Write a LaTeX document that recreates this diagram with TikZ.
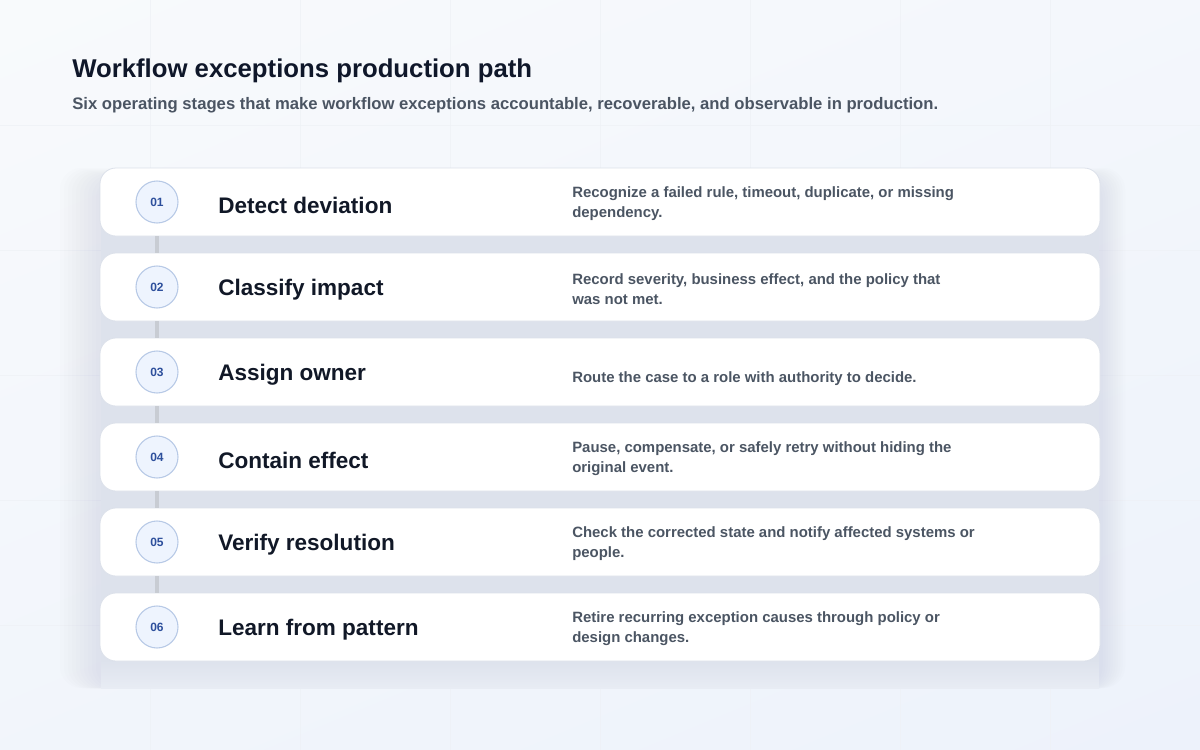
\documentclass[tikz,border=0pt]{standalone}
\usepackage{fontspec}
\setmainfont{Liberation Sans}
\usetikzlibrary{positioning, shadings}
\definecolor{bgtop}{HTML}{F8FAFC}
\definecolor{bgbot}{HTML}{EDF2FB}
\definecolor{gridc}{HTML}{EEF1F6}
\definecolor{shadowc}{HTML}{8C98B4}
\definecolor{gapfill}{HTML}{DDE2EC}
\definecolor{gapend}{HTML}{E8ECF4}
\definecolor{cardline}{HTML}{DCE1EA}
\definecolor{badgefill}{HTML}{EEF4FE}
\definecolor{badgeline}{HTML}{B7C9E6}
\definecolor{badgetext}{HTML}{2D4F9C}
\definecolor{headink}{HTML}{0F172A}
\definecolor{subink}{HTML}{4B5563}
\definecolor{titleink}{HTML}{111827}
\definecolor{noteink}{HTML}{4B5563}
\definecolor{linkgray}{HTML}{C8CCD3}
\tikzset{
  card/.style={draw=cardline, fill=white, rounded corners=12pt,
    minimum width=750pt, minimum height=51pt, line width=0.6pt},
  badge/.style={circle, draw=badgeline, fill=badgefill, minimum size=31.5pt,
    inner sep=0pt, line width=0.8pt, text=badgetext,
    font=\fontsize{9}{9}\selectfont\bfseries},
  stagetitle/.style={anchor=west, inner sep=0pt, text=titleink,
    font=\fontsize{16.9}{19}\selectfont\bfseries},
  stagenote/.style={anchor=west, inner sep=0pt, align=left, text=noteink,
    font=\fontsize{11.2}{15}\selectfont\bfseries},
  link/.style={draw=linkgray, line width=3pt},
}
\begin{document}
\begin{tikzpicture}[x=0.75pt,y=-0.75pt]
			\useasboundingbox (0,0) rectangle (1200,750);
			
			%% fundo, grade
			\shade[upper left=bgtop, upper right=bgtop!60!bgbot,
			lower left=bgtop!40!bgbot, lower right=bgbot] (0,0) rectangle (1200,750);
			\foreach \x in {150,300,...,1050}
			\draw[gridc, line width=0.5pt, opacity=0.7] (\x,0)--(\x,750);
			\foreach \y in {125,250,...,625}
			\draw[gridc, line width=0.5pt, opacity=0.7] (0,\y)--(1200,\y);
			
			%% sombra
			\foreach \k in {1,...,10}
			\fill[shadowc, opacity=0.016, rounded corners=16pt]
			(100-4*\k,178-\k) rectangle (1100+2.5*\k,688);
			\fill[gapfill] (101,225) rectangle (1099,661);
			\shade[top color=gapfill, bottom color=gapend] (101,660) rectangle (1099,688);
			
			%% título
			\node[anchor=base west, inner sep=0pt, text=headink,
			font=\fontsize{19.3}{22}\selectfont\bfseries] (head) at (72,77)
			{Workflow exceptions production path};
			\node[anchor=base west, inner sep=0pt, text=subink,
			font=\fontsize{12.5}{14}\selectfont\bfseries] (sub) at (72,109)
			{Six operating stages that make workflow exceptions accountable, recoverable, and observable in production.};
			
			%% 01
			\node[card] (card1) at (600,202) {};
			\node[badge] (b1) at (157,202) {01};
			\node[stagetitle] (t1) at (218,205) {Detect deviation};
			\node[stagenote] (n1) at (572,204)
			{Recognize a failed rule, timeout, duplicate, or missing\\dependency.};
			
			%% 02
			\node[card] (card2) at (600,287) {};
			\node[badge] (b2) at (157,287) {02};
			\node[stagetitle] (t2) at (218,290) {Classify impact};
			\node[stagenote] (n2) at (572,289)
			{Record severity, business effect, and the policy that\\was not met.};
			
			%% 03
			\node[card] (card3) at (600,372) {};
			\node[badge] (b3) at (157,372) {03};
			\node[stagetitle] (t3) at (218,375) {Assign owner};
			\node[stagenote] (n3) at (572,379)
			{Route the case to a role with authority to decide.};
			
			%% 04
			\node[card] (card4) at (600,457) {};
			\node[badge] (b4) at (157,457) {04};
			\node[stagetitle] (t4) at (218,460) {Contain effect};
			\node[stagenote] (n4) at (572,459)
			{Pause, compensate, or safely retry without hiding the\\original event.};
			
			%% 05
			\node[card] (card5) at (600,542) {};
			\node[badge] (b5) at (157,542) {05};
			\node[stagetitle] (t5) at (218,545) {Verify resolution};
			\node[stagenote] (n5) at (572,544)
			{Check the corrected state and notify affected systems or\\people.};
			
			%% 06
			\node[card] (card6) at (600,627) {};
			\node[badge] (b6) at (157,627) {06};
			\node[stagetitle] (t6) at (218,630) {Learn from pattern};
			\node[stagenote] (n6) at (572,629)
			{Retire recurring exception causes through policy or\\design changes.};
			
			%% ligações
			\draw[link] (card1.south -| b1) -- (card2.north -| b2);
			\draw[link] (card2.south -| b2) -- (card3.north -| b3);
			\draw[link] (card3.south -| b3) -- (card4.north -| b4);
			\draw[link] (card4.south -| b4) -- (card5.north -| b5);
			\draw[link] (card5.south -| b5) -- (card6.north -| b6);
		\end{tikzpicture}
\end{document}
